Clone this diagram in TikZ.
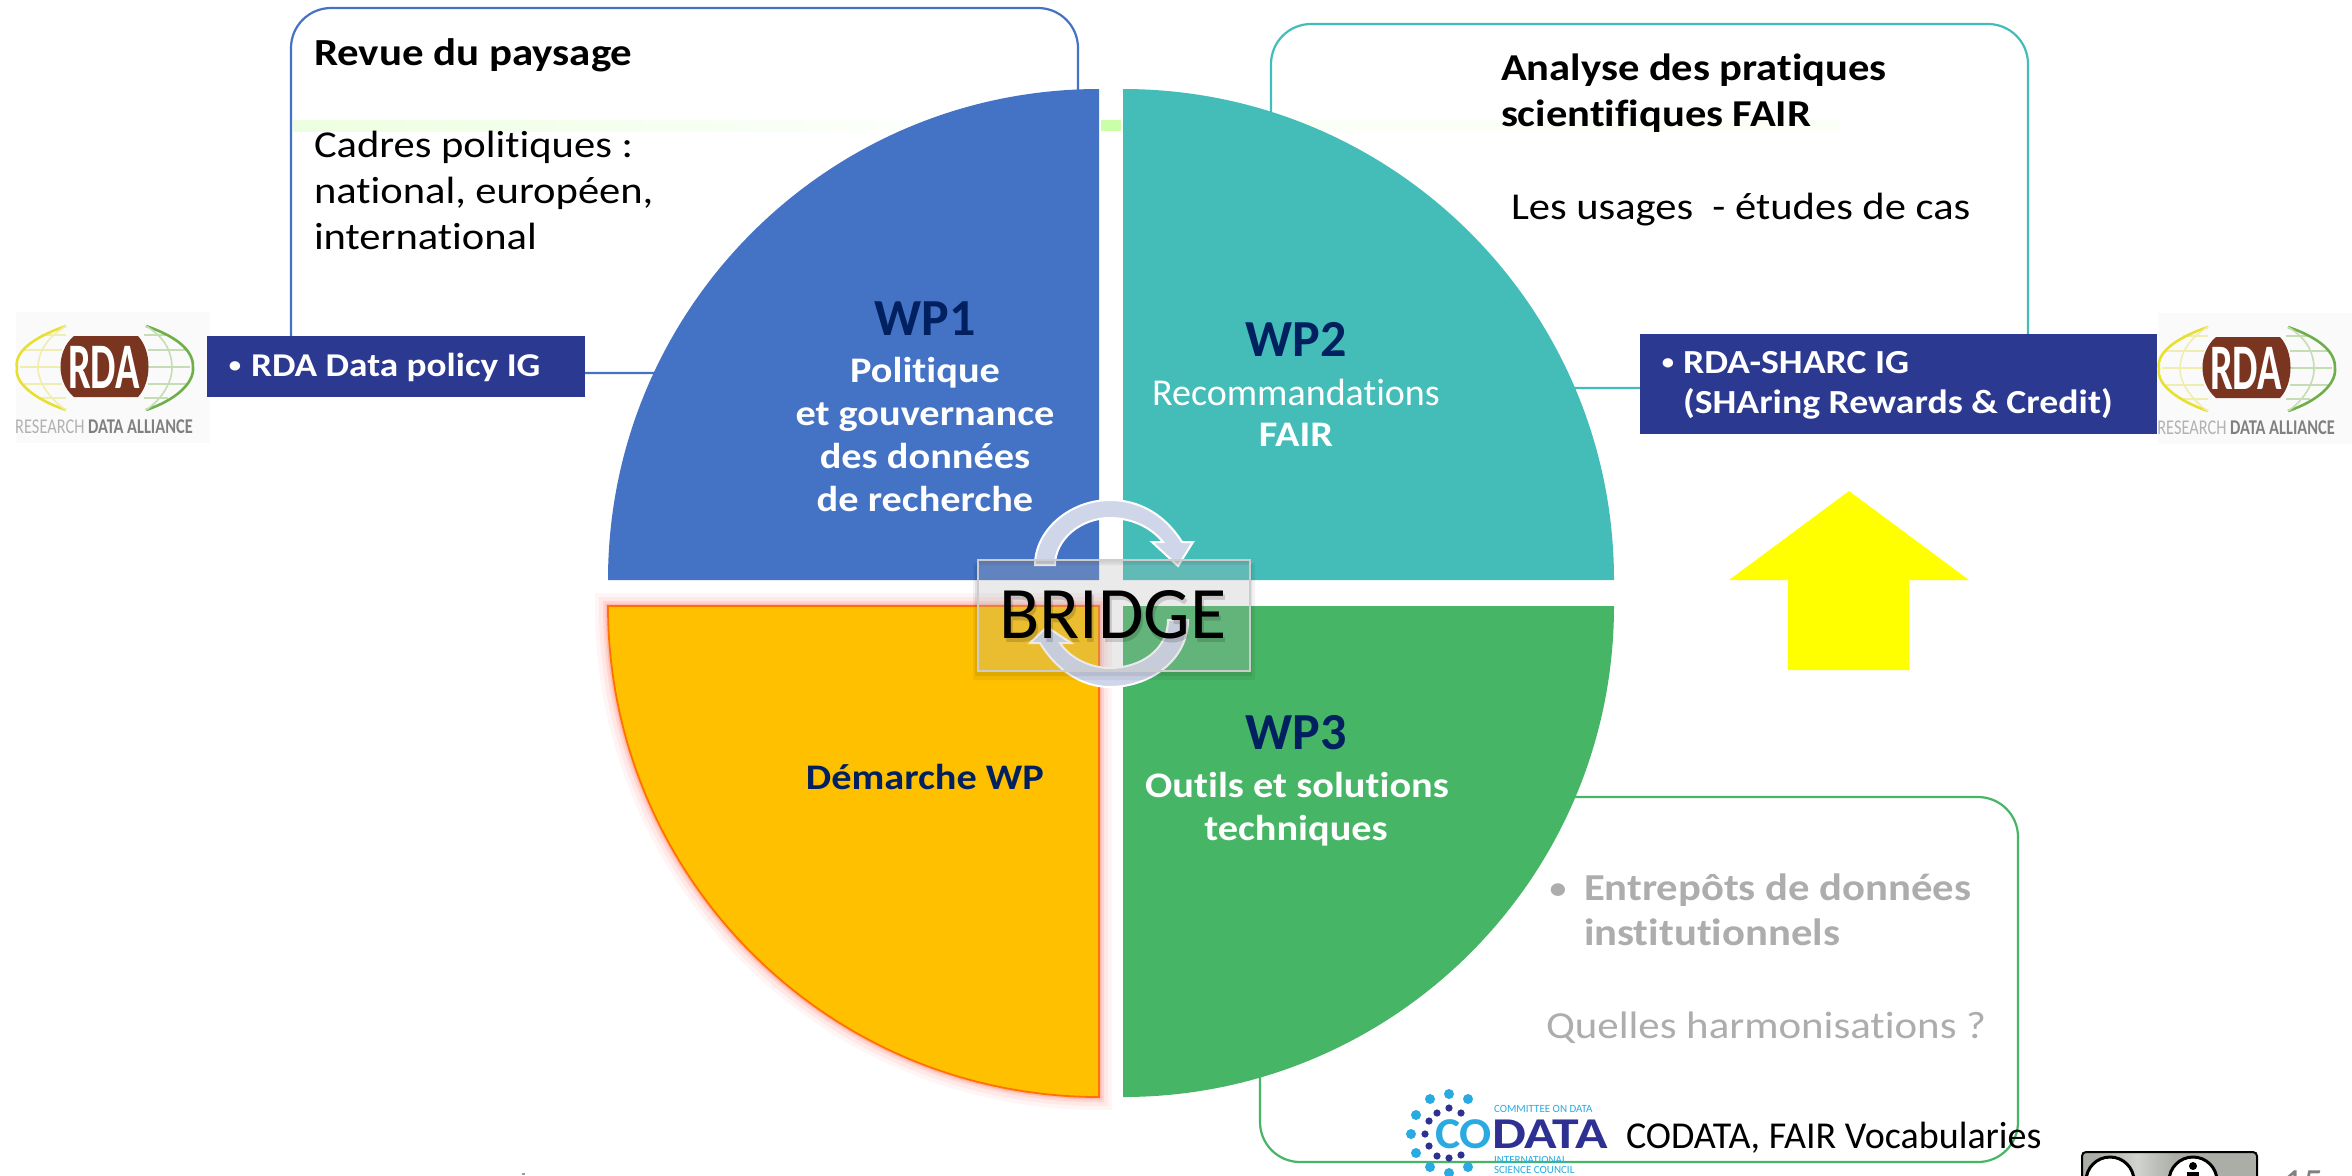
\documentclass[tikz,border=0pt]{standalone}
\usepackage{fontspec}
\setmainfont[Ligatures=NoCommon]{Carlito}
\newfontfamily\st[FakeStretch=1.12,Ligatures=NoCommon]{Carlito}
\usetikzlibrary{calc}
\definecolor{wpblue}{HTML}{4472C4}
\definecolor{wpteal}{HTML}{44BDB8}
\definecolor{wpgreen}{HTML}{47B566}
\definecolor{wporange}{HTML}{FFC000}
\definecolor{navy}{HTML}{002060}
\definecolor{igblue}{HTML}{2B3990}
\definecolor{graytxt}{HTML}{ADADAD}
\definecolor{arrowfill}{HTML}{D0D6EA}
\definecolor{logobrown}{HTML}{7A3520}
\definecolor{cdlight}{HTML}{29ABE2}
\definecolor{cdnavy}{HTML}{2E3192}
\definecolor{badge}{HTML}{AAAEA6}
\definecolor{pureyellow}{HTML}{FFFF00}
\definecolor{logoyel}{HTML}{E8E030}
\definecolor{logoyell}{HTML}{EFEDB0}
\definecolor{logogrn}{HTML}{6FAF4A}
\definecolor{logogrnl}{HTML}{C4DDB4}
\newcommand{\fs}[1]{\fontsize{\dimexpr#1pt/2\relax}{\dimexpr#1pt*3/5\relax}\selectfont}
\tikzset{
  x=0.5pt,y=-0.5pt,
  txt/.style={inner sep=0pt,outer sep=0pt,anchor=base west},
  ctxt/.style={inner sep=0pt,outer sep=0pt,anchor=base},
  framebox/.style={rounded corners=20pt,line width=1.1pt,fill=white},
  igrect/.style={fill=igblue,draw=none},
  cdot/.style={circle,fill=cdlight,inner sep=0pt,minimum size=5pt},
  ndot/.style={circle,fill=cdnavy,inner sep=0pt,minimum size=3.6pt},
  flow/.style={fill=arrowfill,draw=white,line width=1pt,line join=miter},
  pics/rdalogo/.style={code={
    \fill[black!2] (0,-15) rectangle (194,116);
    \draw[line width=.8pt,draw=logoyell] (46,40) -- (4,40) (46,23) -- (8,23) (46,57) -- (8,57) (50,8) -- (25,8) (50,71) -- (25,71);
    \draw[line width=.8pt,draw=logogrnl] (132,40) -- (174,40) (132,23) -- (170,23) (132,57) -- (170,57) (128,8) -- (152,8) (128,71) -- (152,71);
    \draw[line width=1.3pt,draw=logoyel] (50,-1) .. controls (15,11) and (-2,26) .. (1,41) .. controls (-2,56) and (20,73) .. (50,83);
    \draw[line width=.8pt,draw=logoyell] (50,-1) .. controls (30,11) and (22,26) .. (22,41) .. controls (22,56) and (35,73) .. (50,83);
    \draw[line width=1.3pt,draw=logogrn] (130,-1) .. controls (165,11) and (178,26) .. (177,41) .. controls (178,56) and (160,73) .. (130,83);
    \draw[line width=.8pt,draw=logogrnl] (130,-1) .. controls (150,11) and (156,26) .. (156,41) .. controls (156,56) and (145,73) .. (130,83);
    \fill[logobrown] (58,9) -- (122,9) .. controls (136,24) and (136,55) .. (122,70) -- (58,70) .. controls (40,55) and (40,24) .. (58,9) -- cycle;
    \node[inner sep=0pt,white,font=\fs{65}\bfseries] (rdaword) at (88,40) {\scalebox{.62}[1]{RDA}};
    \node[inner sep=0pt,anchor=base,font=\fs{21}] (rdaname) at (88,106) {\scalebox{.78}[1]{\textcolor{black!30}{RESEARCH} \textcolor{black!50}{\textbf{DATA ALLIANCE}}}};
  }}
}
\begin{document}
\begin{tikzpicture}
\clip (0,0) rectangle (2352,1175);
\fill[white] (0,0) rectangle (2352,1175);
% frames
\draw[framebox,draw=wpblue] (291,8) rectangle (1078,373);
\draw[framebox,draw=wpteal] (1271,24) rectangle (2028,388);
\draw[framebox,draw=wpgreen] (1260,797) rectangle (2018,1162);
% faint bands
\shade[left color=green!60!yellow!12,right color=white] (293,120) rectangle (1000,131);
\fill[green!60!yellow!35!white] (1101,120) rectangle (1121,131);
\fill[green!30!yellow!4!white] (1273,120) rectangle (1840,131);
% RDA logos
\pic (logoa) at (16,327) {rdalogo};
\pic (logob) at (2158,328) {rdalogo};
% IG boxes
\node[igrect,minimum width=189pt,minimum height=30.5pt,inner sep=0pt,anchor=north west] (igleft) at (207,336) {};
\node[igrect,minimum width=258.5pt,minimum height=50pt,inner sep=0pt,anchor=north west] (igright) at (1640,334) {};
% pie
\foreach \w/\o in {13/.04,9/.06,5/.09,2.5/.14}{
  \draw[red!80!orange,line width=\w pt,opacity=\o] (1099,606) -- (608,606) arc[start angle=180,end angle=270,radius=245.5pt] -- cycle;
}
\fill[wpblue] (1099,580) -- (608,580) arc[start angle=180,end angle=90,radius=245.5pt] -- cycle;
\fill[wpteal] (1123,580) -- (1614,580) arc[start angle=0,end angle=90,radius=245.5pt] -- cycle;
\fill[wpgreen] (1123,606) -- (1614,606) arc[start angle=0,end angle=-90,radius=245.5pt] -- cycle;
\fill[wporange,draw=orange!70!red!85!yellow,line width=.9pt] (1099,606) -- (608,606) arc[start angle=180,end angle=270,radius=245.5pt] -- cycle;
% pie texts
\node[ctxt,font=\fs{52}\bfseries,text=navy] (wp1) at (925,335) {WP1};
\node[ctxt,font=\st\fs{36}\bfseries,text=white] (wp1a) at (925,382) {Politique};
\node[ctxt,font=\st\fs{36}\bfseries,text=white] (wp1b) at (925,425) {et gouvernance};
\node[ctxt,font=\st\fs{36}\bfseries,text=white] (wp1c) at (925,468) {des données};
\node[ctxt,font=\st\fs{36}\bfseries,text=white] (wp1d) at (925,511) {de recherche};
\node[ctxt,font=\fs{52}\bfseries,text=navy] (wp2) at (1296,356) {WP2};
\node[ctxt,font=\fs{38},text=white] (wp2a) at (1296,405) {Recommandations};
\node[ctxt,font=\st\fs{36}\bfseries,text=white] (wp2b) at (1296,446) {FAIR};
\node[ctxt,font=\fs{52}\bfseries,text=navy] (wp3) at (1296,749) {WP3};
\node[ctxt,font=\st\fs{36}\bfseries,text=white] (wp3a) at (1297,797) {Outils et solutions};
\node[ctxt,font=\st\fs{36}\bfseries,text=white] (wp3b) at (1296,840) {techniques};
\node[ctxt,font=\st\fs{36}\bfseries,text=navy] (dem) at (925,789) {Démarche WP};
% frame texts
\node[txt,font=\st\fs{38.3}\bfseries] (revue) at (314,65) {Revue du paysage};
\node[txt,font=\st\fs{38}] (cad1) at (314,157) {Cadres politiques :};
\node[txt,font=\st\fs{38}] (cad2) at (314,203) {national, européen,};
\node[txt,font=\st\fs{38}] (cad3) at (314,249) {international};
\node[txt,font=\st\fs{38}\bfseries] (ana1) at (1501,80) {Analyse des pratiques};
\node[txt,font=\st\fs{38}\bfseries] (ana2) at (1501,126) {scientifiques FAIR};
\node[txt,font=\st\fs{38}] (usages) at (1511,219) {Les usages\ \ - études de cas};
\node[ctxt,font=\st\fs{22}\bfseries,text=white] (b1) at (235,372) {•};
\node[txt,font=\st\fs{33.3}\bfseries,text=white] (pol) at (251,376) {RDA Data policy IG};
\node[ctxt,font=\st\fs{22}\bfseries,text=white] (b2) at (1668,369) {•};
\node[txt,font=\st\fs{33.7}\bfseries,text=white] (sh1) at (1683,373) {RDA-SHARC IG};
\node[txt,font=\st\fs{33.7}\bfseries,text=white] (sh2) at (1683,413) {(SHAring Rewards \& Credit)};
\node[ctxt,font=\st\fs{30}\bfseries,text=graytxt] (b3) at (1558,898) {•};
\node[txt,font=\st\fs{38.1}\bfseries,text=graytxt] (ent1) at (1584,900) {Entrepôts de données};
\node[txt,font=\st\fs{38.1}\bfseries,text=graytxt] (ent2) at (1584,945) {institutionnels};
\node[txt,font=\st\fs{38.3},text=graytxt] (quel) at (1546,1038) {Quelles harmonisations ?};
% yellow arrow
\fill[pureyellow] (1849,491) -- (1969,580) -- (1909,580) -- (1909,670) -- (1788,670) -- (1788,580) -- (1729,580) -- cycle;
% bridge arrows
\path[flow] (1035,565) .. controls (1035,530) and (1070,500) .. (1110,500) .. controls (1140,500) and (1165,515) .. (1182,542) -- (1193,542) -- (1178,566) -- (1152,542) -- (1163,542) .. controls (1150,526) and (1130,518) .. (1110,518) .. controls (1080,518) and (1055,540) .. (1055,565) -- cycle;
\path[flow] (1188,620) .. controls (1188,660) and (1150,687) .. (1110,687) .. controls (1080,687) and (1055,668) .. (1040,643) -- (1030,643) -- (1047,627) -- (1071,643) -- (1060,643) .. controls (1070,658) and (1090,668) .. (1110,668) .. controls (1140,668) and (1168,650) .. (1168,620) -- cycle;
% bridge box
\fill[black,opacity=.05,even odd rule] (973,563) rectangle (1255,680) (977,559) rectangle (1249,670);
\fill[black,opacity=.07,even odd rule] (975,565) rectangle (1252,676) (977,559) rectangle (1249,670);
\node[draw=black!20,line width=.8pt,fill=black!30,fill opacity=.27,draw opacity=1,minimum width=136pt,minimum height=55.5pt,inner sep=0pt,anchor=north west] (bridgebox) at (977,559) {};
\node[ctxt,font=\fs{74},text=black,opacity=.15] (bridgesh) at (1115,642) {BRIDGE};
\node[ctxt,font=\fs{74},text=black] (bridge) at (1113,638) {BRIDGE};
% CODATA
\foreach \n/\x/\y in {1/1430/1099,2/1449/1094,3/1468/1099,4/1416/1115,5/1411/1134,6/1416/1153,7/1430/1167,8/1449/1173,9/1468/1167}{
  \node[cdot] (cl\n) at (\x,\y) {};
}
\foreach \n/\x/\y in {1/1437/1113,2/1449/1108,3/1461/1113,4/1429/1121,5/1425/1134,6/1429/1146,7/1437/1156,8/1449/1158,9/1461/1155}{
  \node[ndot] (cn\n) at (\x,\y) {};
}
\node[txt,font=\fs{44}\bfseries,text=cdlight] (cdco) at (1435,1148) {\scalebox{1.08}[1]{CO}};
\node[txt,font=\fs{44}\bfseries,text=cdnavy] (cdda) at (1492,1148) {\scalebox{1.22}[1]{DATA}};
\node[txt,font=\fs{11},text=cdlight] (cd1) at (1494,1112) {COMMITTEE ON DATA};
\node[txt,font=\fs{11},text=cdlight] (cd2) at (1494,1163) {INTERNATIONAL};
\node[txt,font=\fs{11},text=cdlight] (cd3) at (1494,1173) {SCIENCE COUNCIL};
\node[txt,font=\fs{38}] (cdfair) at (1626,1148) {CODATA, FAIR Vocabularies};
% licence badge
\fill[badge] (2082,1152) rectangle (2257,1190);
\shade[left color=badge,right color=badge!55!white] (2095,1153) rectangle (2137,1190);
\shade[left color=badge!55!white,right color=badge] (2137,1153) rectangle (2175,1190);
\draw[black,line width=1pt,rounded corners=2pt] (2082,1152) rectangle (2257,1190);
\fill[white,draw=black,line width=1.5pt] (2110,1181) circle[radius=12pt];
\fill[white,draw=black,line width=1.5pt] (2193,1181) circle[radius=12pt];
\fill[black] (2193,1166) circle[radius=2pt];
\fill[black] (2187,1172) rectangle (2199,1185);
% page number
\node[txt,font=\fs{40},text=black!50] (pagenum) at (2283,1196) {15};
\fill[black!40] (522,1173) rectangle (525,1175);
\end{tikzpicture}
\end{document}
